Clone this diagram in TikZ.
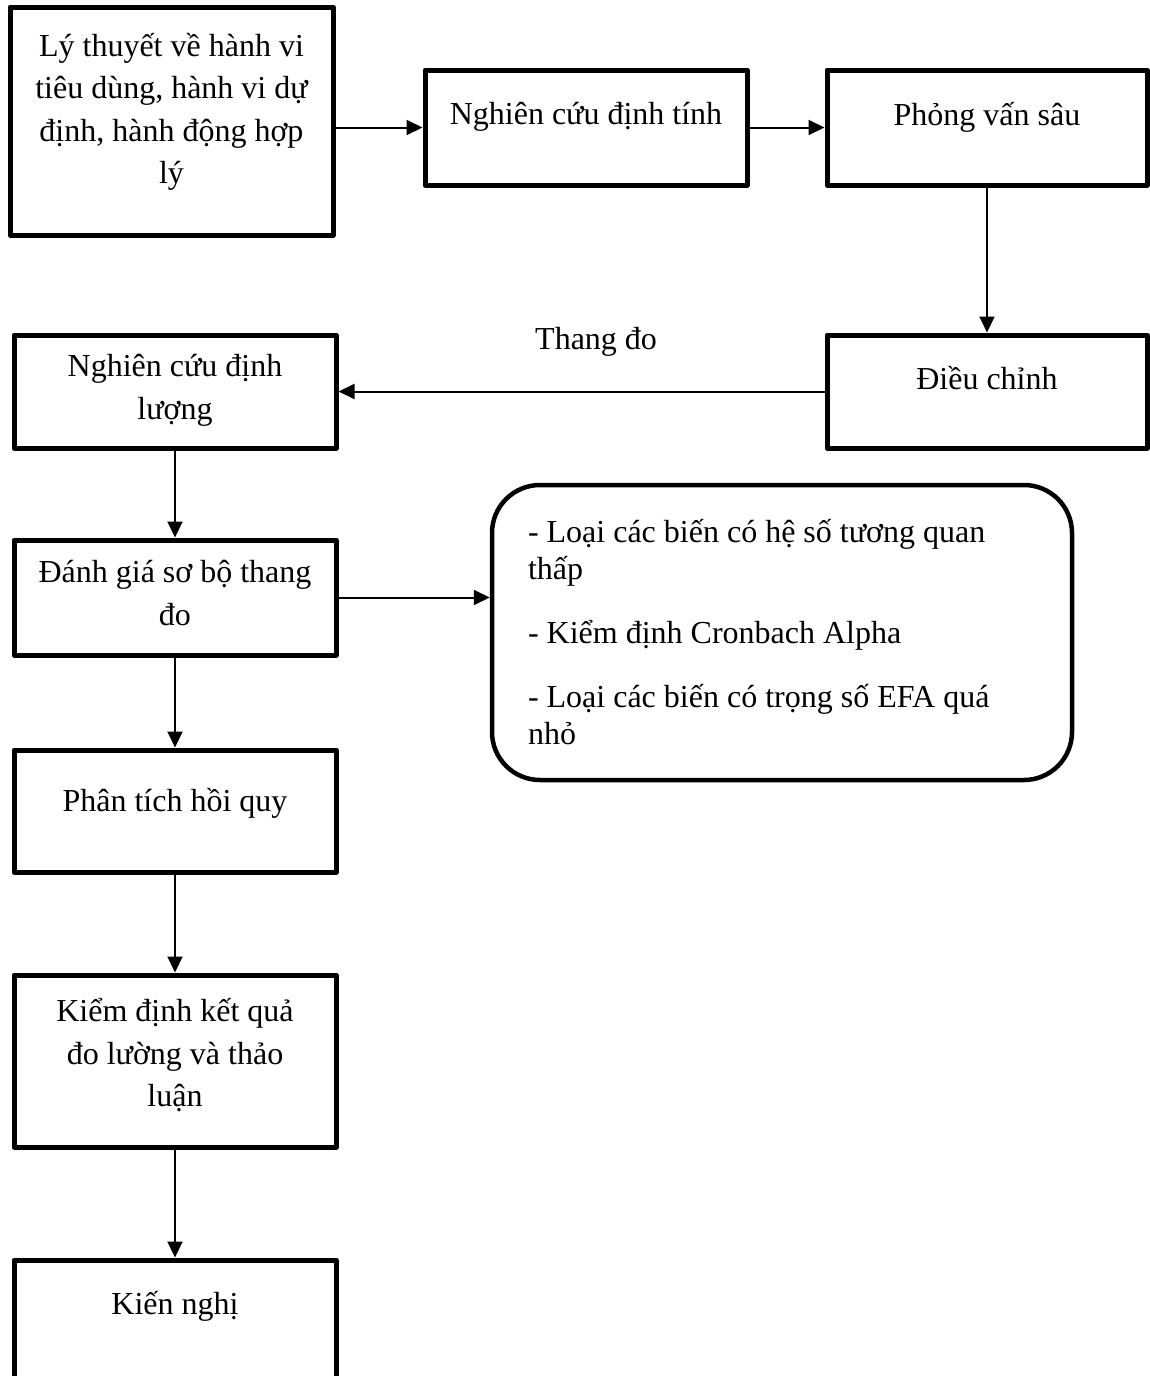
\documentclass[tikz,border=0pt]{standalone}
\usepackage{fontspec}
\setmainfont{Liberation Serif}
\usetikzlibrary{positioning, arrows.meta}

\begin{document}
\begin{tikzpicture}[x=1pt, y=-1pt, on grid, font=\fontsize{32}{42.5}\selectfont]
        \tikzset{
            block/.style={draw, line width=5pt, line join=round, minimum width=322pt, inner sep=0pt},
            blocktext/.style={anchor=base, align=flush center, text width=320pt, inner sep=0pt},
            notebox/.style={draw, line width=4.5pt, rounded corners=48pt, minimum width=580pt,
                minimum height=295pt, inner sep=0pt, text width=508pt, align=flush left,
                font=\fontsize{32}{37}\selectfont},
            flow/.style={-{Triangle[length=16pt,width=15pt]}, line width=2pt}
        }
        \useasboundingbox (0,0) rectangle (1149,1376);

        % top row
        \node[block, minimum width=323pt, minimum height=228pt,
            label={[blocktext, yshift=-51.5pt]north:Lý thuyết về hành vi\\tiêu dùng, hành vi dự\\định, hành động hợp\\lý}] (theory) at (171.5,121) {};
        \node[block, minimum height=115pt,
            label={[blocktext, yshift=-56.5pt]north:Nghiên cứu định tính}] (qual) at (586,127.5) {};
        \node[block, minimum width=320pt, minimum height=115pt,
            label={[blocktext, yshift=-57.5pt]north:Phỏng vấn sâu}] (interview) at (987,127.5) {};
        \node[block, minimum width=320pt, minimum height=113pt,
            label={[blocktext, yshift=-57pt]north:Điều chỉnh}] (adjust) [below=264pt of interview] {};

        % left column
        \node[block, minimum height=113pt,
            label={[blocktext, yshift=-44pt]north:Nghiên cứu định\\lượng}] (quant) [left=812pt of adjust] {};
        \node[block, minimum height=115pt,
            label={[blocktext, yshift=-45pt]north:Đánh giá sơ bộ thang\\đo}] (prelim) [below=206pt of quant] {};
        \node[block, minimum height=122pt,
            label={[blocktext, yshift=-63.5pt]north:Phân tích hồi quy}] (regress) [below=213.5pt of prelim] {};
        \node[block, minimum height=172pt,
            label={[blocktext, yshift=-49pt]north:Kiểm định kết quả\\đo lường và thảo\\luận}] (verify) [below=250pt of regress] {};
        \node[block, minimum height=130pt,
            label={[blocktext, yshift=-56.5pt]north:Kiến nghị}] (recommend) [below=264pt of verify] {};

        \node[notebox] (notes) at (782,632.5) {- Loại các biến có hệ số tương quan\\thấp\\[27pt]- Kiểm định Cronbach Alpha\\[27pt]- Loại các biến có trọng số EFA quá\\nhỏ};

        \path[flow]
        (qual.west -| theory.east) edge (qual.west)
        (qual) edge (interview)
        (interview) edge (adjust)
        (adjust) edge node[above=31pt, pos=0.47] {Thang đo} (quant)
        (quant) edge (prelim)
        (prelim.east) edge (prelim.east -| notes.west)
        (prelim) edge (regress)
        (regress) edge (verify)
        (verify) edge (recommend);
    \end{tikzpicture}
\end{document}
